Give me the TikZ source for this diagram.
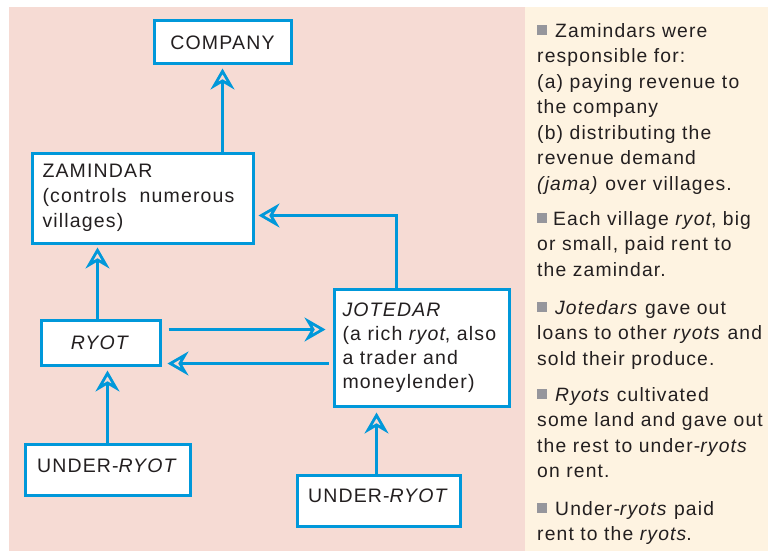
\documentclass[tikz,border=0pt]{standalone}
\usepackage{fontspec}
\setmainfont{Liberation Sans}[LetterSpace=6]
\usetikzlibrary{arrows.meta,calc}
\definecolor{pinkbg}{RGB}{246,219,212}
\definecolor{creambg}{RGB}{254,243,225}
\definecolor{lineblue}{RGB}{0,152,218}
\definecolor{txt}{RGB}{35,31,32}
\definecolor{bulletgray}{RGB}{150,150,156}
\begin{document}
\begin{tikzpicture}[x=1pt,y=-1pt,
  box/.style={draw=lineblue, line width=3pt, fill=white, text=txt, inner sep=0pt,
    font=\fontsize{19.5}{25}\selectfont},
  conn/.style={draw=lineblue, line width=2.8pt,
    -{Stealth[open, length=21pt, width=24pt, inset=7pt, line width=2.8pt]}},
  rtext/.style={text=txt, align=left, anchor=north west, inner sep=0pt,
    font=\fontsize{19.3}{25.5}\selectfont},
  bullet/.style={fill=bulletgray, inner sep=0pt, minimum width=10pt, minimum height=9.5pt}]
\useasboundingbox (0,0) rectangle (768,551);
\fill[white] (0,0) rectangle (768,551);
\fill[pinkbg] (9,7) rectangle (525,551);
\fill[creambg] (525,7) rectangle (768,551);

% boxes
\node[box, minimum width=137pt, minimum height=43pt] (company) at (222.5,42.5) {COMPANY};
\node[box, minimum width=221pt, minimum height=90pt, align=left, text width=200pt,
  inner xsep=10.5pt] (zamindar) at (142.5,198) {ZAMINDAR\\(controls \ numerous\\villages)};
\node[box, minimum width=119pt, minimum height=45pt] (ryot) at (100.5,342.5) {\textit{RYOT}};
\node[box, minimum width=175pt, minimum height=117pt, align=left, text width=158pt,
  inner xsep=8.5pt, font=\fontsize{19.5}{24}\selectfont] (jotedar) at (421.5,347.5)
  {\textit{JOTEDAR}\\(a rich \textit{ryot}, also\\a trader and\\moneylender)};
\node[box, minimum width=165pt, minimum height=51pt, text depth=8pt] (under1) at (107.5,469.5) {UNDER-\textit{RYOT}};
\node[box, minimum width=163pt, minimum height=51pt, text depth=9pt] (under2) at (378.5,500.5) {UNDER-\textit{RYOT}};

% helper coordinates
\coordinate (jz) at (396.5,215.5);
\coordinate (rz) at (97.5,0);
\coordinate (rj) at (0,329.5);
\coordinate (jr) at (0,363.5);
\coordinate (uj) at (376.5,0);

% connectors
\draw[conn] (company.south |- zamindar.north) -- ($(company.south)+(0,3)$);
\draw[conn] (jotedar.north -| jz) -- (jz) -- ($(zamindar.east |- jz)+(4,0)$);
\draw[conn] (ryot.north -| rz) -- ($(zamindar.south -| rz)+(0,3)$);
\draw[conn] ($(ryot.east |- rj)+(7,0)$) -- ($(jotedar.west |- rj)+(-7,0)$);
\draw[conn] ($(jotedar.west |- jr)+(-4,0)$) -- ($(ryot.east |- jr)+(6,0)$);
\draw[conn] (under1.north) -- ($(ryot.south -| under1.north)+(0,4)$);
\draw[conn] (under2.north -| uj) -- ($(jotedar.south -| uj)+(0,5)$);

% right-hand notes
\node[bullet] (b1) at (542,30) {};
\node[rtext] (p1) at (537,22) {\rule{0pt}{15pt}\hspace{18pt}Zamindars were\\responsible for:\\(a) paying revenue to\\the company\\(b) distributing the\\revenue demand\\\textit{(jama)} over villages.};
\node[bullet] (b2) at (542,218) {};
\node[rtext] (p2) at (537,210) {\rule{0pt}{15pt}\hspace{16pt}Each village \textit{ryot}, big\\or small, paid rent  to\\the zamindar.};
\node[bullet] (b3) at (542,307) {};
\node[rtext] (p3) at (537,299) {\rule{0pt}{15pt}\hspace{18pt}\textit{Jotedars} gave out\\loans to other \textit{ryots} and\\sold their produce.};
\node[bullet] (b4) at (542,394) {};
\node[rtext] (p4) at (537,386) {\rule{0pt}{15pt}\hspace{18pt}\textit{Ryots} cultivated\\some land and gave out\\the rest to under-\textit{ryots}\\on rent.};
\node[bullet] (b5) at (542,508) {};
\node[rtext] (p5) at (537,500) {\rule{0pt}{15pt}\hspace{18pt}Under-\textit{ryots} paid\\rent to the \textit{ryots}.};
\end{tikzpicture}
\end{document}
